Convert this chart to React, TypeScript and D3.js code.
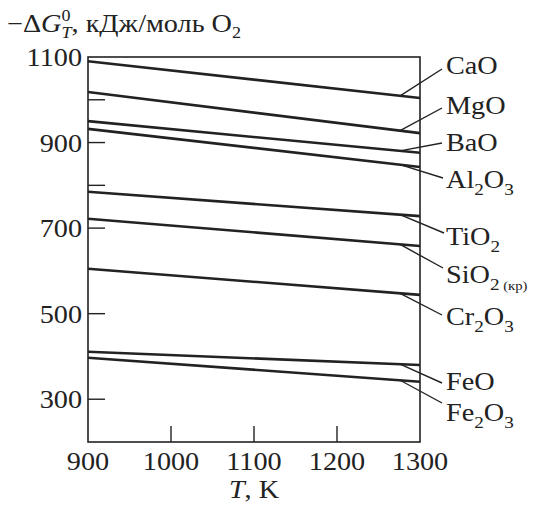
import React from 'react';
import * as d3 from 'd3';

const temps = [900, 1300];
const oxides = ['CaO', 'MgO', 'BaO', 'Al2O3', 'TiO2', 'SiO2', 'Cr2O3', 'FeO', 'Fe2O3'];
const g900 = [1090, 1018, 950, 932, 785, 722, 605, 411, 397];
const g1300 = [1004, 922, 876, 843, 728, 658, 544, 380, 341];
const yTickLabels = [1100, 900, 700, 500, 300];
const yInnerTicks = [1000, 900, 800, 700, 500, 300];
const xTickLabels = [900, 1000, 1100, 1200, 1300];
const xInnerTicks = [1000, 1100, 1200];

// label text parts: [text, size]  (size 0 = normal, 1 = subscript, 2 = small subscript)
const labelParts: [string, number][][] = [
  [['CaO', 0]],
  [['MgO', 0]],
  [['BaO', 0]],
  [['Al', 0], ['2', 1], ['O', 0], ['3', 1]],
  [['TiO', 0], ['2', 1]],
  [['SiO', 0], ['2', 1], [' (кр)', 2]],
  [['Cr', 0], ['2', 1], ['O', 0], ['3', 1]],
  [['FeO', 0]],
  [['Fe', 0], ['2', 1], ['O', 0], ['3', 1]],
];
// layout of labels: text baseline y and leader end point
const labelLayout = [
  { ty: 74, lx: 442, ly: 69 },
  { ty: 114, lx: 442, ly: 108 },
  { ty: 151, lx: 442, ly: 143 },
  { ty: 188, lx: 443, ly: 178 },
  { ty: 245, lx: 444, ly: 233 },
  { ty: 283, lx: 443, ly: 268 },
  { ty: 325, lx: 442, ly: 315 },
  { ty: 390, lx: 442, ly: 383 },
  { ty: 421, lx: 442, ly: 403 },
];

const SX = 1.13;
const SIZES = [25, 17, 13];

function T(props: { x: number; y: number; anchor?: string; size?: number; children: React.ReactNode }) {
  return (
    <text transform={`translate(${props.x},${props.y}) scale(${SX},1)`} fontSize={props.size || 25} textAnchor={props.anchor || 'start'}>
      {props.children}
    </text>
  );
}

export default function App() {
  const W = 533, H = 506;
  const x = d3.scaleLinear().domain([900, 1300]).range([88, 420]);
  const y = d3.scaleLinear().domain([200, 1100]).range([442, 57]);
  const font = '"Liberation Serif", "Times New Roman", serif';
  const line = d3.line<[number, number]>().x(d => x(d[0])).y(d => y(d[1]));
  const leaderT = 1276;

  return (
    <svg width={W} height={H} style={{ position: 'absolute', left: 0, top: 0, background: '#fff' }} fontFamily={font} fill="#222">
      {/* title */}
      <T x={7} y={32}>
        <tspan>−Δ</tspan>
        <tspan fontStyle="italic">G</tspan>
        <tspan fontSize={16} dy={-11}>0</tspan>
        <tspan fontSize={16} fontStyle="italic" dx={-8} dy={17}>T</tspan>
        <tspan dy={-6}>, кДж/моль O</tspan>
        <tspan fontSize={16} dy={6}>2</tspan>
      </T>

      {/* frame */}
      <rect x={x(900)} y={y(1100)} width={x(1300) - x(900)} height={y(200) - y(1100)} fill="none" stroke="#222" strokeWidth={1.6} />

      {/* inner ticks */}
      {yInnerTicks.map(v => (
        <line key={'yt' + v} x1={x(900)} x2={x(900) + 17} y1={y(v)} y2={y(v)} stroke="#222" strokeWidth={1.4} />
      ))}
      {xInnerTicks.map(v => (
        <line key={'xt' + v} x1={x(v)} x2={x(v)} y1={y(200)} y2={y(200) - 16} stroke="#222" strokeWidth={1.4} />
      ))}

      {/* tick labels */}
      {yTickLabels.map(v => (
        <T key={'yl' + v} x={82} y={y(v) + 9} anchor="end">{v}</T>
      ))}
      {xTickLabels.map(v => (
        <T key={'xl' + v} x={x(v)} y={470} anchor="middle">{v}</T>
      ))}
      <T x={254} y={498} anchor="middle">
        <tspan fontStyle="italic">T</tspan>, K
      </T>

      {/* data lines */}
      {oxides.map((o, i) => (
        <path key={o} d={line([[temps[0], g900[i]], [temps[1], g1300[i]]]) || ''} fill="none" stroke="#222" strokeWidth={2.6} />
      ))}

      {/* leaders and labels */}
      {oxides.map((o, i) => {
        const L = labelLayout[i];
        const v = g900[i] + (g1300[i] - g900[i]) * (leaderT - temps[0]) / (temps[1] - temps[0]);
        let prevSub = false;
        return (
          <g key={'lab' + o}>
            <line x1={x(leaderT)} y1={y(v)} x2={L.lx} y2={L.ly} stroke="#222" strokeWidth={1.4} />
            <T x={446} y={L.ty}>
              {labelParts[i].map(([t, s], j) => {
                const sub = s > 0;
                const dy = sub && !prevSub ? 7 : (!sub && prevSub ? -7 : 0);
                prevSub = sub;
                return <tspan key={j} dy={dy} fontSize={SIZES[s]}>{t}</tspan>;
              })}
            </T>
          </g>
        );
      })}
    </svg>
  );
}
